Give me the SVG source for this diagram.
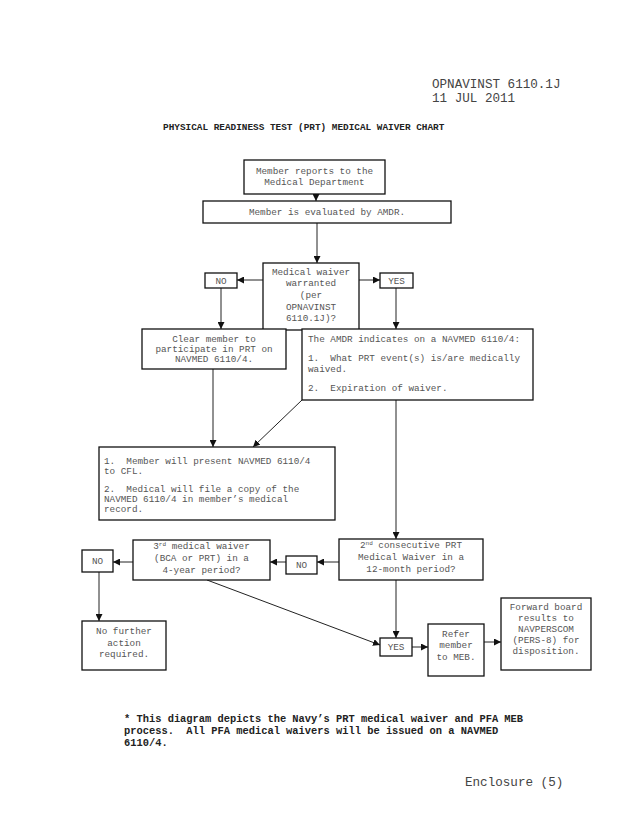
<svg xmlns="http://www.w3.org/2000/svg" width="638" height="826" viewBox="0 0 638 826">
<style>
.b{fill:#fff;stroke:#111;stroke-width:1.3}
.t{font-family:"Liberation Mono","DejaVu Sans Mono",monospace;font-size:9.3px;fill:#555}
.c{text-anchor:middle}
.h{font-family:"Liberation Mono","DejaVu Sans Mono",monospace;font-size:12.6px;fill:#444}
.bo{font-family:"Liberation Mono","DejaVu Sans Mono",monospace;font-weight:bold;fill:#222}
.ln{stroke:#222;stroke-width:1;fill:none}
.sup{font-size:6px}
</style>
<defs>
<marker id="ah" viewBox="0 0 10 10" refX="10" refY="5" markerWidth="7" markerHeight="7" markerUnits="userSpaceOnUse" orient="auto">
<path d="M0,0 L10,5 L0,10 z" fill="#111"/>
</marker>
</defs>
<rect width="638" height="826" fill="#fff"/>
<text class="h" x="432" y="88">OPNAVINST 6110.1J</text>
<text class="h" x="432" y="102">11 JUL 2011</text>
<text class="bo" x="163" y="130" font-size="9.4">PHYSICAL READINESS TEST (PRT) MEDICAL WAIVER CHART</text>

<g id="connectors">
<line class="ln" x1="316" y1="194" x2="316" y2="201" marker-end="url(#ah)"/>
<line class="ln" x1="317" y1="223" x2="317" y2="263" marker-end="url(#ah)"/>
<line class="ln" x1="263" y1="280" x2="237" y2="280" marker-end="url(#ah)"/>
<line class="ln" x1="359" y1="280" x2="380" y2="280" marker-end="url(#ah)"/>
<line class="ln" x1="221" y1="288" x2="221" y2="329" marker-end="url(#ah)"/>
<line class="ln" x1="396" y1="288" x2="396" y2="329" marker-end="url(#ah)"/>
<line class="ln" x1="213" y1="369" x2="213" y2="447" marker-end="url(#ah)"/>
<line class="ln" x1="302" y1="400" x2="253" y2="447" marker-end="url(#ah)"/>
<line class="ln" x1="396" y1="400" x2="396" y2="539" marker-end="url(#ah)"/>
<line class="ln" x1="339" y1="562" x2="317" y2="562" marker-end="url(#ah)"/>
<line class="ln" x1="286" y1="562" x2="270" y2="562" marker-end="url(#ah)"/>
<line class="ln" x1="133" y1="562" x2="113" y2="562" marker-end="url(#ah)"/>
<line class="ln" x1="99" y1="572" x2="99" y2="621" marker-end="url(#ah)"/>
<line class="ln" x1="207" y1="580" x2="380" y2="645" marker-end="url(#ah)"/>
<line class="ln" x1="396" y1="580" x2="396" y2="638" marker-end="url(#ah)"/>
<line class="ln" x1="412" y1="647" x2="428" y2="647" marker-end="url(#ah)"/>
<line class="ln" x1="484" y1="642" x2="501" y2="642" marker-end="url(#ah)"/>
</g>

<g id="n-reports">
<rect class="b" x="244" y="160" width="141" height="34"/>
<text class="t c" x="314.5" y="174">Member reports to the</text>
<text class="t c" x="314.5" y="185">Medical Department</text>
</g>
<g id="n-evaluated">
<rect class="b" x="203" y="201" width="248" height="22"/>
<text class="t c" x="327" y="215">Member is evaluated by AMDR.</text>
</g>
<g id="n-warranted">
<rect class="b" x="263" y="263" width="96" height="67"/>
<text class="t c" x="311" y="275">Medical waiver</text>
<text class="t c" x="311" y="286">warranted</text>
<text class="t c" x="311" y="298">(per</text>
<text class="t c" x="311" y="310">OPNAVINST</text>
<text class="t c" x="311" y="321">6110.1J)?</text>
</g>
<g id="n-no1">
<rect class="b" x="205" y="273" width="32" height="15"/>
<text class="t c" x="221" y="284">NO</text>
</g>
<g id="n-yes1">
<rect class="b" x="380" y="273" width="33" height="15"/>
<text class="t c" x="396.5" y="284">YES</text>
</g>
<g id="n-clear">
<rect class="b" x="142" y="329" width="144" height="40"/>
<text class="t c" x="214" y="342">Clear member to</text>
<text class="t c" x="214" y="352">participate in PRT on</text>
<text class="t c" x="214" y="362">NAVMED 6110/4.</text>
</g>
<g id="n-amdr">
<rect class="b" x="302" y="329" width="231" height="71"/>
<text class="t" x="308" y="342">The AMDR indicates on a NAVMED 6110/4:</text>
<text class="t" x="308" y="361" xml:space="preserve">1.  What PRT event(s) is/are medically</text>
<text class="t" x="308" y="372">waived.</text>
<text class="t" x="308" y="391" xml:space="preserve">2.  Expiration of waiver.</text>
</g>
<g id="n-present">
<rect class="b" x="99" y="447" width="236" height="73"/>
<text class="t" x="104" y="464" xml:space="preserve">1.  Member will present NAVMED 6110/4</text>
<text class="t" x="104" y="474">to CFL.</text>
<text class="t" x="104" y="492" xml:space="preserve">2.  Medical will file a copy of the</text>
<text class="t" x="104" y="502">NAVMED 6110/4 in member’s medical</text>
<text class="t" x="104" y="512">record.</text>
</g>
<g id="n-third">
<rect class="b" x="133" y="540" width="137" height="40"/>
<text class="t c" x="201.5" y="549">3<tspan class="sup" dy="-3">rd</tspan><tspan dy="3"> medical waiver</tspan></text>
<text class="t c" x="201.5" y="561">(BCA or PRT) in a</text>
<text class="t c" x="201.5" y="573">4-year period?</text>
</g>
<g id="n-second">
<rect class="b" x="339" y="539" width="144" height="41"/>
<text class="t c" x="411" y="548">2<tspan class="sup" dy="-3">nd</tspan><tspan dy="3"> consecutive PRT</tspan></text>
<text class="t c" x="411" y="560">Medical Waiver in a</text>
<text class="t c" x="411" y="572">12-month period?</text>
</g>
<g id="n-no2">
<rect class="b" x="286" y="556" width="31" height="18"/>
<text class="t c" x="301.5" y="568">NO</text>
</g>
<g id="n-no3">
<rect class="b" x="82" y="550" width="31" height="22"/>
<text class="t c" x="97.5" y="564">NO</text>
</g>
<g id="n-nofurther">
<rect class="b" x="82" y="621" width="84" height="49"/>
<text class="t c" x="124" y="634">No further</text>
<text class="t c" x="124" y="646">action</text>
<text class="t c" x="124" y="657">required.</text>
</g>
<g id="n-yes2">
<rect class="b" x="380" y="638" width="32" height="18"/>
<text class="t c" x="396" y="650">YES</text>
</g>
<g id="n-refer">
<rect class="b" x="428" y="624" width="56" height="52"/>
<text class="t c" x="456" y="637">Refer</text>
<text class="t c" x="456" y="648">member</text>
<text class="t c" x="456" y="660">to MEB.</text>
</g>
<g id="n-forward">
<rect class="b" x="501" y="598" width="90" height="72"/>
<text class="t c" x="546" y="610">Forward board</text>
<text class="t c" x="546" y="621">results to</text>
<text class="t c" x="546" y="632">NAVPERSCOM</text>
<text class="t c" x="546" y="643">(PERS-8) for</text>
<text class="t c" x="546" y="654">disposition.</text>
</g>

<text class="bo" x="124" y="722" font-size="10.4">* This diagram depicts the Navy’s PRT medical waiver and PFA MEB</text>
<text class="bo" x="124" y="734" font-size="10.4" xml:space="preserve">process.  All PFA medical waivers will be issued on a NAVMED</text>
<text class="bo" x="124" y="746" font-size="10.4">6110/4.</text>
<text class="h" x="465" y="786">Enclosure (5)</text>
</svg>
